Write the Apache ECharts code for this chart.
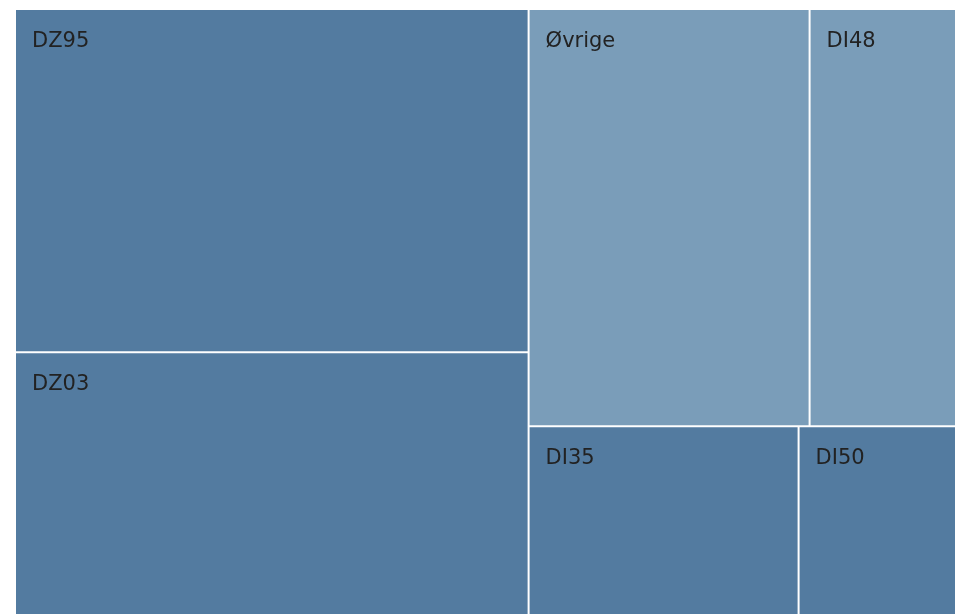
<!DOCTYPE html>
<html><head><meta charset="utf-8">
<script src="https://cdn.jsdelivr.net/npm/echarts@6/dist/echarts.min.js"></script>
<style>html,body{margin:0;padding:0;background:#fff}#c{width:955px;height:614px}</style>
</head><body><div id="c"></div>
<script>
const names = ['DZ95','DZ03','Øvrige','DI48','DI35','DI50'];
const values = [175100, 134100, 116500, 60700, 50600, 29500];
const colors = ['#537ba0','#537ba0','#7a9db9','#7a9db9','#537ba0','#537ba0'];
const data = names.map((n,i)=>({name:n,value:values[i],itemStyle:{color:colors[i]}}));
const chart = echarts.init(document.getElementById('c'));
chart.setOption({
  animation:false,
  series:[{
    type:'treemap',
    left:16, top:10, right:0, bottom:0,
    roam:false, nodeClick:false,
    breadcrumb:{show:false},
    itemStyle:{borderColor:'#fff',borderWidth:0,gapWidth:2},
    label:{show:true,position:'insideTopLeft',distance:0,padding:[21,0,0,16],color:'#222',fontSize:21,fontFamily:'DejaVu Sans'},
    data:data
  }]
});
</script></body></html>
